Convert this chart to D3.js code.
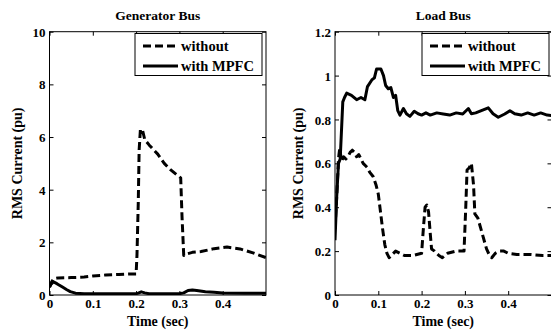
<!DOCTYPE html>
<html><head><meta charset="utf-8">
<script src="https://cdn.jsdelivr.net/npm/d3@7"></script>
<style>
body{margin:0;background:#fff;}
</style></head>
<body><svg id="c" width="551" height="333"></svg>
<script>
// ---- data ----
const xTicks = [0, 0.1, 0.2, 0.3, 0.4];
const xTickLabels = ["0", "0.1", "0.2", "0.3", "0.4"];
const genYTicks = [0, 2, 4, 6, 8, 10];
const genYTickLabels = ["0", "2", "4", "6", "8", "10"];
const loadYTicks = [0, 0.2, 0.4, 0.6, 0.8, 1, 1.2];
const loadYTickLabels = ["0", "0.2", "0.4", "0.6", "0.8", "1", "1.2"];
const seriesNames = ["without", "with MPFC"];

const genWithoutT = [0, 0.005, 0.01, 0.02, 0.05, 0.08, 0.1, 0.13, 0.16, 0.19, 0.2, 0.202, 0.205, 0.207, 0.21, 0.215, 0.22, 0.23, 0.25, 0.265, 0.28, 0.295, 0.303, 0.306, 0.31, 0.315, 0.33, 0.35, 0.38, 0.41, 0.44, 0.47, 0.5];
const genWithoutV = [0.3, 0.5, 0.62, 0.65, 0.66, 0.68, 0.72, 0.76, 0.78, 0.8, 0.8, 1.5, 3.5, 5.5, 6.3, 6.25, 5.9, 5.7, 5.35, 5.0, 4.75, 4.55, 4.45, 3.0, 1.5, 1.55, 1.62, 1.65, 1.76, 1.82, 1.75, 1.6, 1.42];
const genWithT = [0, 0.003, 0.009, 0.015, 0.02, 0.029, 0.04, 0.048, 0.06, 0.08, 0.1, 0.15, 0.2, 0.205, 0.212, 0.22, 0.23, 0.25, 0.3, 0.31, 0.32, 0.33, 0.34, 0.36, 0.38, 0.4, 0.45, 0.5];
const genWithV = [0.3, 0.4, 0.5, 0.45, 0.4, 0.31, 0.2, 0.13, 0.07, 0.05, 0.05, 0.05, 0.05, 0.07, 0.12, 0.08, 0.05, 0.05, 0.05, 0.08, 0.17, 0.19, 0.17, 0.12, 0.1, 0.08, 0.07, 0.07];

const loadWithoutT = [0, 0.004, 0.008, 0.011, 0.015, 0.02, 0.025, 0.03, 0.035, 0.04, 0.045, 0.05, 0.055, 0.06, 0.065, 0.07, 0.075, 0.08, 0.088, 0.095, 0.1, 0.105, 0.11, 0.115, 0.12, 0.125, 0.13, 0.14, 0.15, 0.16, 0.18, 0.2, 0.204, 0.208, 0.212, 0.216, 0.22, 0.223, 0.23, 0.24, 0.248, 0.26, 0.28, 0.298, 0.302, 0.305, 0.31, 0.315, 0.32, 0.323, 0.33, 0.34, 0.35, 0.357, 0.362, 0.37, 0.38, 0.39, 0.4, 0.42, 0.45, 0.48, 0.5];
const loadWithoutV = [0.3, 0.45, 0.62, 0.67, 0.61, 0.63, 0.62, 0.63, 0.65, 0.66, 0.65, 0.63, 0.64, 0.62, 0.6, 0.59, 0.58, 0.56, 0.54, 0.5, 0.46, 0.38, 0.3, 0.23, 0.19, 0.17, 0.18, 0.2, 0.19, 0.18, 0.18, 0.19, 0.3, 0.4, 0.41, 0.38, 0.28, 0.21, 0.2, 0.18, 0.17, 0.19, 0.2, 0.2, 0.4, 0.57, 0.58, 0.6, 0.5, 0.37, 0.35, 0.28, 0.21, 0.18, 0.17, 0.19, 0.2, 0.2, 0.19, 0.185, 0.185, 0.18, 0.18];
const loadWithT = [0, 0.004, 0.008, 0.012, 0.015, 0.018, 0.022, 0.027, 0.038, 0.05, 0.06, 0.069, 0.075, 0.085, 0.091, 0.096, 0.106, 0.112, 0.117, 0.123, 0.129, 0.135, 0.14, 0.145, 0.15, 0.158, 0.165, 0.173, 0.183, 0.192, 0.2, 0.21, 0.22, 0.235, 0.25, 0.265, 0.28, 0.295, 0.308, 0.315, 0.325, 0.338, 0.354, 0.365, 0.377, 0.392, 0.404, 0.415, 0.43, 0.445, 0.46, 0.475, 0.49, 0.5];
const loadWithV = [0.25, 0.45, 0.6, 0.62, 0.75, 0.88, 0.9, 0.92, 0.91, 0.89, 0.9, 0.89, 0.95, 0.98, 0.99, 1.03, 1.03, 1.0, 0.955, 0.94, 0.945, 0.9, 0.91, 0.84, 0.82, 0.85, 0.826, 0.814, 0.837, 0.826, 0.82, 0.83, 0.82, 0.83, 0.825, 0.82, 0.83, 0.825, 0.85, 0.826, 0.83, 0.84, 0.853, 0.826, 0.81, 0.825, 0.84, 0.826, 0.82, 0.83, 0.82, 0.83, 0.82, 0.818];

// ---- drawing ----
const FONT = "'Liberation Serif', 'Times New Roman', Times, serif";
const svg = d3.select("#c");
const panels = [
  {title: "Generator Bus", x0: 49.5, x1: 266, yMax: 10, yTicks: genYTicks, yLabels: genYTickLabels,
   series: [[genWithoutT, genWithoutV, true], [genWithT, genWithV, false]], labelX: 22, legendX: 135},
  {title: "Load Bus", x0: 335, x1: 551.5, yMax: 1.2, yTicks: loadYTicks, yLabels: loadYTickLabels,
   series: [[loadWithoutT, loadWithoutV, true], [loadWithT, loadWithV, false]], labelX: 303, legendX: 422}
];
const plotTop = 31.7, plotBottom = 295;

function styleText(sel, size) {
  sel.attr("font-family", FONT).attr("font-weight", "bold").attr("font-size", size).attr("fill", "#000")
    .style("font-family", FONT).style("font-weight", "bold");
}

panels.forEach(p => {
  const x = d3.scaleLinear().domain([0, 0.5]).range([p.x0, p.x1]);
  const y = d3.scaleLinear().domain([0, p.yMax]).range([plotBottom, plotTop]);
  const g = svg.append("g");
  const clipId = "clip" + Math.round(p.x0);
  svg.append("clipPath").attr("id", clipId).append("rect")
    .attr("x", p.x0).attr("y", plotTop - 2).attr("width", p.x1 - p.x0).attr("height", plotBottom - plotTop + 2);

  const line = d3.line().x(d => x(d[0])).y(d => y(d[1]));
  p.series.forEach(([t, v, dashed]) => {
    const pts = t.map((tt, i) => [tt, v[i]]);
    g.append("path").attr("d", line(pts)).attr("fill", "none").attr("stroke", "#000")
      .attr("stroke-width", 3).attr("stroke-linejoin", "round")
      .attr("stroke-dasharray", dashed ? "8,4" : null)
      .attr("clip-path", `url(#${clipId})`);
  });

  g.append("rect").attr("x", p.x0).attr("y", plotTop).attr("width", p.x1 - p.x0).attr("height", plotBottom - plotTop)
    .attr("fill", "none").attr("stroke", "#000").attr("stroke-width", 1);

  const tl = 4;
  g.append("g").attr("transform", `translate(0,${plotBottom})`)
    .call(d3.axisBottom(x).tickValues(xTicks).tickSize(-tl).tickPadding(4).tickFormat((d, i) => xTickLabels[i]))
    .call(a => { a.select(".domain").remove(); a.selectAll("text").call(styleText, 13).attr("dy", "0.71em"); });
  g.append("g").attr("transform", `translate(0,${plotTop})`)
    .call(d3.axisTop(x).tickValues(xTicks).tickSize(-tl).tickFormat(""))
    .call(a => a.select(".domain").remove());
  g.append("g").attr("transform", `translate(${p.x0},0)`)
    .call(d3.axisLeft(y).tickValues(p.yTicks).tickSize(-tl).tickPadding(4).tickFormat((d, i) => p.yLabels[i]))
    .call(a => { a.select(".domain").remove(); a.selectAll("text").call(styleText, 13).attr("dy", "0.35em"); });
  g.append("g").attr("transform", `translate(${p.x1},0)`)
    .call(d3.axisRight(y).tickValues(p.yTicks).tickSize(-tl).tickFormat(""))
    .call(a => a.select(".domain").remove());

  const cx = (p.x0 + p.x1) / 2;
  g.append("text").attr("x", cx).attr("y", 19.5).attr("text-anchor", "middle").call(styleText, 13.5).text(p.title);
  g.append("text").attr("x", cx).attr("y", 326).attr("text-anchor", "middle").call(styleText, 14).text("Time (sec)");
  g.append("text").attr("transform", `translate(${p.labelX},${(plotTop + plotBottom) / 2}) rotate(-90)`)
    .attr("text-anchor", "middle").call(styleText, 14).text("RMS Current (pu)");

  const lg = g.append("g").attr("transform", `translate(${p.legendX},33.5)`);
  lg.append("rect").attr("width", 127).attr("height", 42).attr("fill", "#fff").attr("stroke", "#000").attr("stroke-width", 1);
  seriesNames.forEach((name, i) => {
    const yy = 12.5 + i * 20;
    lg.append("line").attr("x1", 8).attr("x2", 43).attr("y1", yy).attr("y2", yy)
      .attr("stroke", "#000").attr("stroke-width", 3).attr("stroke-dasharray", i === 0 ? "8,4" : null);
    lg.append("text").attr("x", 46).attr("y", yy + 5).call(styleText, 14.5).text(name);
  });
});
</script></body></html>
